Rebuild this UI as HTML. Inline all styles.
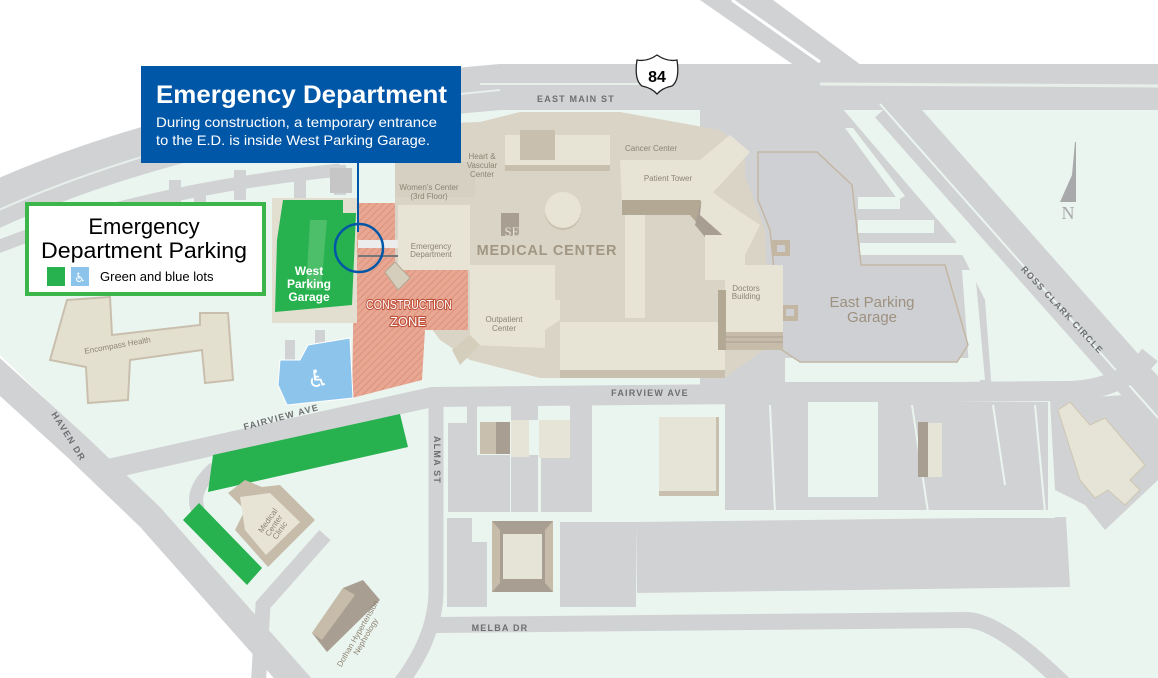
<!DOCTYPE html>
<html><head><meta charset="utf-8"><style>
html,body{margin:0;padding:0;background:#fff;}
svg{display:block;}
.st{font-family:"Liberation Sans",sans-serif;font-weight:bold;font-size:9px;fill:#6d6e71;letter-spacing:1.2px;}
.bl{font-family:"Liberation Sans",sans-serif;font-size:8px;fill:#8d8374;}
</style></head><body>
<svg width="1158" height="678" viewBox="0 0 1158 678" xmlns="http://www.w3.org/2000/svg">
<defs>
<pattern id="hatch" width="5" height="5" patternUnits="userSpaceOnUse" patternTransform="rotate(45)">
<rect width="5" height="5" fill="#e7a792"/><line x1="0" y1="0" x2="0" y2="5" stroke="#d98c78" stroke-width="1.6"/>
</pattern>
</defs>
<rect width="1158" height="678" fill="#fff"/>
<path d="M0,205 Q200,105 500,86 L1158,86 L1158,678 L297,678 L150,500 L77,430 L0,355 Z" fill="#ebf5ef"/>

<path d="M-10,207 Q200,112 500,87 L1170,87" fill="none" stroke="#d1d2d4" stroke-width="46"/>
<path d="M-10,214 Q200,118 500,90" fill="none" stroke="#e6efe9" stroke-width="2"/>
<path d="M820,84 L1158,86" fill="none" stroke="#e6efe9" stroke-width="3"/>
<path d="M480,84 L640,84" fill="none" stroke="#e6efe9" stroke-width="2"/>
<polygon points="700,0 773,0 865,68 798,68" fill="#d1d2d4"/>
<line x1="732" y1="0" x2="820" y2="62" stroke="#fff" stroke-width="3"/>
<path d="M-10,250 Q140,190 340,170" fill="none" stroke="#d1d2d4" stroke-width="13"/>
<path d="M175,180 L175,205 M240,170 L240,200 M200,185 L200,210" stroke="#d1d2d4" stroke-width="12"/>
<path d="M300,170 L300,200 M340,165 L340,195" stroke="#d1d2d4" stroke-width="12"/>
<rect x="330" y="168" width="22" height="25" fill="#c7c6c6"/>

<polygon points="700,108 842,108 955,240 985,300 992,392 700,392" fill="#d1d2d4"/>
<polygon points="845,128 853,128 905,196 898,200" fill="#ebf5ef"/>
<rect x="858" y="197" width="42" height="12" fill="#ebf5ef"/>
<rect x="858" y="220" width="76" height="13" fill="#ebf5ef"/>
<rect x="860" y="243" width="103" height="12" fill="#ebf5ef"/>
<rect x="785" y="358" width="195" height="24" fill="#ebf5ef"/>
<polygon points="962,270 975,270 985,380 970,380" fill="#ebf5ef"/>
<line x1="890" y1="104" x2="1170" y2="420" stroke="#d1d2d4" stroke-width="40"/>
<line x1="880" y1="104" x2="1160" y2="420" stroke="#ebf5ef" stroke-width="2"/>
<path d="M95,472 L432,397 L1060,391 Q1120,392 1150,355" fill="none" stroke="#d1d2d4" stroke-width="20"/>
<polygon points="1050,400 1125,395 1158,420 1158,480 1105,530 1085,505 1055,490" fill="#d1d2d4"/>
<path d="M-10,368 L78,448 L150,517 L312,700" fill="none" stroke="#d1d2d4" stroke-width="28"/>
<path d="M436,392 L436,590 Q436,640 395,690" fill="none" stroke="#d1d2d4" stroke-width="15"/>
<path d="M436,625 L966,620 Q1000,620 1070,690" fill="none" stroke="#d1d2d4" stroke-width="16"/>
<path d="M215,468 Q190,490 198,510" fill="none" stroke="#d1d2d4" stroke-width="14"/>
<path d="M258,690 L263,605 L325,535" fill="none" stroke="#d1d2d4" stroke-width="15"/>
<path d="M290,395 L290,340 M320,395 L320,330" stroke="#d1d2d4" stroke-width="10"/>

<g fill="#d1d2d4">
<rect x="448" y="423" width="29" height="89"/><rect x="467" y="400" width="10" height="25"/>
<rect x="477" y="455" width="33" height="57"/><rect x="511" y="455" width="27" height="57"/>
<rect x="511" y="400" width="27" height="20"/>
<rect x="541" y="458" width="51" height="54"/><rect x="570" y="400" width="22" height="60"/>
<rect x="447" y="518" width="25" height="89"/><rect x="472" y="542" width="15" height="65"/>
<rect x="560" y="522" width="76" height="85"/><rect x="600" y="522" width="36" height="85"/>
<polygon points="636,522 1066,517 1070,587 637,593"/>
<rect x="725" y="402" width="323" height="110"/>
</g>
<rect x="808" y="402" width="70" height="95" fill="#ebf5ef"/>
<line x1="770" y1="405" x2="775" y2="512" stroke="#ebf5ef" stroke-width="2"/>
<line x1="912" y1="405" x2="928" y2="512" stroke="#ebf5ef" stroke-width="2"/>
<line x1="993" y1="405" x2="1005" y2="485" stroke="#ebf5ef" stroke-width="2"/>
<line x1="1035" y1="405" x2="1045" y2="512" stroke="#ebf5ef" stroke-width="2"/>
<rect x="725" y="510" width="330" height="8" fill="#ebf5ef"/>
<rect x="480" y="422" width="18" height="32" fill="#c9bfae"/><rect x="496" y="422" width="14" height="32" fill="#a89e91"/>
<rect x="511" y="420" width="18" height="37" fill="#e6e4d6"/>
<rect x="539" y="420" width="31" height="38" fill="#e6e4d6"/>
<polygon points="492,521 553,521 553,592 492,592" fill="#a89e91"/>
<polygon points="492,521 500,530 500,583 492,592" fill="#c7bcaa"/>
<polygon points="553,521 545,530 545,583 553,592" fill="#c7bcaa"/>
<rect x="503" y="534" width="39" height="45" fill="#e6e4d6"/>
<rect x="659" y="417" width="60" height="79" fill="#c9bfae"/><rect x="659" y="417" width="57" height="74" fill="#e6e4d6"/>
<rect x="918" y="422" width="10" height="55" fill="#a89e91"/><rect x="928" y="423" width="14" height="54" fill="#e6e4d6"/>
<polygon points="1058,410 1070,402 1090,425 1105,418 1145,465 1130,480 1140,490 1125,505 1108,490 1095,498 1080,480" fill="#e6e4d6" stroke="#cfc6b2" stroke-width="1"/>

<polygon points="758,152 817,152 852,185 861,265 945,265 968,345 957,362 800,362 782,350 770,230 758,200" fill="#cfd0d3" stroke="#c3b7a3" stroke-width="1.5"/>
<rect x="772" y="240" width="18" height="16" fill="#c3b7a3"/><rect x="777" y="245" width="8" height="7" fill="#cfd0d3"/>
<rect x="782" y="305" width="16" height="16" fill="#c3b7a3"/><rect x="786" y="309" width="8" height="7" fill="#cfd0d3"/>
<text x="872" y="307" text-anchor="middle" font-family="Liberation Sans,sans-serif" font-size="15" fill="#9d9180">East Parking</text>
<text x="872" y="322" text-anchor="middle" font-family="Liberation Sans,sans-serif" font-size="15" fill="#9d9180">Garage</text>

<polygon points="395,125 480,122 520,112 620,112 720,130 745,150 745,175 765,230 770,345 725,378 540,378 470,360 440,340 395,280" fill="#d9d4c6"/>
<rect x="395" y="162" width="80" height="35" fill="#d6d0c2"/>
<rect x="398" y="205" width="72" height="65" fill="#e7e4d6"/>
<rect x="505" y="135" width="105" height="30" fill="#e7e4d6"/><rect x="505" y="165" width="105" height="6" fill="#c9bfae"/>
<rect x="520" y="130" width="35" height="30" fill="#c9bfae"/>
<circle cx="563" cy="212" r="18" fill="#c9bfae"/><circle cx="563" cy="210" r="18" fill="#e7e4d6"/>
<rect x="501" y="213" width="18" height="23" fill="#a89e91"/>
<text x="512" y="236" text-anchor="middle" font-family="Liberation Serif,serif" font-size="13" fill="#e7e4d6">SE</text>
<text x="547" y="255" text-anchor="middle" font-family="Liberation Sans,sans-serif" font-weight="bold" font-size="14.5" fill="#a29684" letter-spacing="0.8">MEDICAL CENTER</text>
<rect x="470" y="265" width="85" height="35" fill="#e7e4d6"/>
<polygon points="470,300 560,300 560,320 545,330 545,348 470,345" fill="#e7e4d6"/>
<rect x="560" y="322" width="165" height="53" fill="#e7e4d6"/><rect x="560" y="370" width="165" height="8" fill="#c9bfae"/>
<rect x="625" y="208" width="20" height="110" fill="#e7e4d6"/>
<polygon points="620,160 700,160 730,135 750,152 720,185 700,205 622,205" fill="#e7e4d6"/>
<polygon points="622,200 700,200 735,235 720,250 690,215 622,215" fill="#b3a893"/>
<polygon points="700,205 735,240 720,255 695,225" fill="#a89e91"/>
<polygon points="703,185 730,205 760,225 745,255 700,215" fill="#e7e4d6"/>
<rect x="705" y="235" width="40" height="45" fill="#e7e4d6"/>
<rect x="725" y="265" width="58" height="70" fill="#e7e4d6"/>
<rect x="725" y="332" width="58" height="18" fill="#c7bcaa"/>
<line x1="725" y1="337" x2="783" y2="337" stroke="#a89e91"/><line x1="725" y1="342" x2="783" y2="342" stroke="#a89e91"/>
<rect x="718" y="290" width="8" height="60" fill="#b3a893"/>
<polygon points="452,350 470,335 480,345 460,365" fill="#d6cebd"/>
<text class="bl" x="482" y="159" text-anchor="middle">Heart &amp;</text>
<text class="bl" x="482" y="168" text-anchor="middle">Vascular</text>
<text class="bl" x="482" y="177" text-anchor="middle">Center</text>
<text class="bl" x="429" y="190" text-anchor="middle">Women's Center</text>
<text class="bl" x="429" y="199" text-anchor="middle">(3rd Floor)</text>
<text class="bl" x="431" y="249" text-anchor="middle">Emergency</text>
<text class="bl" x="431" y="257" text-anchor="middle">Department</text>
<text class="bl" x="504" y="322" text-anchor="middle">Outpatient</text>
<text class="bl" x="504" y="331" text-anchor="middle">Center</text>
<text class="bl" x="651" y="151" text-anchor="middle">Cancer Center</text>
<text class="bl" x="668" y="181" text-anchor="middle">Patient Tower</text>
<text class="bl" x="746" y="291" text-anchor="middle">Doctors</text>
<text class="bl" x="746" y="299" text-anchor="middle">Building</text>

<polygon points="355,203 395,203 395,270 468,270 468,330 425,330 422,380 352,398" fill="url(#hatch)"/>
<rect x="358" y="240" width="40" height="8" fill="#ececec"/><line x1="358" y1="256" x2="398" y2="256" stroke="#777" stroke-width="2"/>
<polygon points="385,272 395,262 410,278 398,290" fill="#d6cebd" stroke="#b3a893"/>
<text x="366" y="309" textLength="86" lengthAdjust="spacingAndGlyphs" font-family="Liberation Sans Narrow,Liberation Sans,sans-serif" font-size="13" fill="#fff" stroke="#c0503a" stroke-width="2.2" paint-order="stroke" stroke-linejoin="round">CONSTRUCTION</text>
<text x="408" y="326" text-anchor="middle" font-family="Liberation Sans Narrow,Liberation Sans,sans-serif" font-size="13" fill="#fff" stroke="#c0503a" stroke-width="2.2" paint-order="stroke" stroke-linejoin="round">ZONE</text>

<rect x="272" y="198" width="85" height="125" fill="#e2dfd1"/>
<polygon points="283,200 343,200 343,213 356,213 352,305 275,312 277,240" fill="#27b24f"/>
<polygon points="310,220 327,220 321,290 306,290" fill="#5ec376" opacity="0.7"/>
<text x="309" y="275" text-anchor="middle" font-family="Liberation Sans,sans-serif" font-weight="bold" font-size="12" fill="#fff">West</text>
<text x="309" y="288" text-anchor="middle" font-family="Liberation Sans,sans-serif" font-weight="bold" font-size="12" fill="#fff">Parking</text>
<text x="309" y="301" text-anchor="middle" font-family="Liberation Sans,sans-serif" font-weight="bold" font-size="12" fill="#fff">Garage</text>
<polygon points="280,360 300,360 308,345 350,338 353,398 287,405 278,385" fill="#8cc4ec" stroke="#fff" stroke-width="1"/>
<text x="318" y="387" text-anchor="middle" font-family="DejaVu Sans,sans-serif" font-size="24" fill="#fff">♿</text>

<polygon points="213,455 400,414 408,447 208,492" fill="#27b24f"/>
<polygon points="183,520 199,503 262,568 247,585" fill="#27b24f"/>

<polygon points="67,300 110,297 112,335 200,325 200,313 228,313 233,380 205,383 202,350 130,360 128,400 88,403 86,367 50,360" fill="#e4e0cf" stroke="#c9bfae" stroke-width="2"/>
<text class="bl" x="118" y="348" transform="rotate(-10 118 348)" text-anchor="middle">Encompass Health</text>

<polygon points="228,493 245,480 262,487 280,485 315,520 268,567 235,530 245,510" fill="#c7bcaa"/>
<polygon points="240,497 270,493 300,522 266,555 245,530" fill="#e7e4d6"/>
<text class="bl" x="270" y="522" transform="rotate(-55 270 522)" text-anchor="middle" font-size="7">Medical</text>
<text class="bl" x="276" y="527" transform="rotate(-55 276 527)" text-anchor="middle" font-size="7">Center</text>
<text class="bl" x="282" y="532" transform="rotate(-55 282 532)" text-anchor="middle" font-size="7">Clinic</text>
<polygon points="312,633 343,588 363,580 380,600 327,652" fill="#a89e91"/>
<polygon points="312,633 343,588 355,595 322,640" fill="#c7bcaa"/>
<text class="bl" x="360" y="635" transform="rotate(-60 360 635)" text-anchor="middle" font-size="7">Dothan Hypertension</text>
<text class="bl" x="368" y="638" transform="rotate(-60 368 638)" text-anchor="middle" font-size="7">Nephrology</text>

<text class="st" x="576" y="102" text-anchor="middle">EAST MAIN ST</text>
<text class="st" x="650" y="396" text-anchor="middle">FAIRVIEW AVE</text>
<text class="st" x="282" y="420" text-anchor="middle" transform="rotate(-15 282 420)">FAIRVIEW AVE</text>
<text class="st" x="66" y="438" text-anchor="middle" transform="rotate(58 66 438)">HAVEN DR</text>
<text class="st" x="434" y="460" text-anchor="middle" transform="rotate(90 434 460)">ALMA ST</text>
<text class="st" x="500" y="631" text-anchor="middle">MELBA DR</text>
<text class="st" x="1060" y="312" text-anchor="middle" transform="rotate(47 1060 312)">ROSS CLARK CIRCLE</text>

<polygon points="1075,142 1076,142 1076,202 1060,202 1072,175" fill="#a8a9ab"/>
<text x="1068" y="219" text-anchor="middle" font-family="Liberation Serif,serif" font-size="18" fill="#a8a9ab">N</text>

<path d="M637,60 Q647,62 657,55 Q667,62 677,60 Q680,80 672,86 Q662,88 657,94 Q652,88 642,86 Q634,80 637,60 Z" fill="#fff" stroke="#222" stroke-width="1.3"/>
<text x="657" y="82" text-anchor="middle" font-family="Liberation Sans,sans-serif" font-weight="bold" font-size="16" fill="#000">84</text>

<line x1="358" y1="160" x2="358" y2="232" stroke="#0057a8" stroke-width="2"/>
<circle cx="359" cy="248" r="24" fill="none" stroke="#0057a8" stroke-width="2.5"/>
<rect x="141" y="66" width="320" height="97" fill="#0057a8"/>
<text x="156" y="103" textLength="291" lengthAdjust="spacingAndGlyphs" font-family="Liberation Sans,sans-serif" font-weight="bold" font-size="25" fill="#fff">Emergency Department</text>
<text x="156" y="127" textLength="281" lengthAdjust="spacingAndGlyphs" font-family="Liberation Sans,sans-serif" font-size="14" fill="#fff">During construction, a temporary entrance</text>
<text x="156" y="145" textLength="274" lengthAdjust="spacingAndGlyphs" font-family="Liberation Sans,sans-serif" font-size="14" fill="#fff">to the E.D. is inside West Parking Garage.</text>

<rect x="27" y="204" width="237" height="90" fill="#fff" stroke="#3cb54a" stroke-width="4"/>
<text x="144" y="234" text-anchor="middle" font-family="Liberation Sans,sans-serif" font-size="22" fill="#000">Emergency</text>
<text x="144" y="258" text-anchor="middle" textLength="206" lengthAdjust="spacingAndGlyphs" font-family="Liberation Sans,sans-serif" font-size="22" fill="#000">Department Parking</text>
<rect x="47" y="267" width="18" height="19" fill="#27b24f"/>
<rect x="71" y="267" width="18" height="19" fill="#8cc4ec"/>
<text x="80" y="282" text-anchor="middle" font-family="DejaVu Sans,sans-serif" font-size="13" fill="#fff">♿</text>
<text x="100" y="281" font-family="Liberation Sans,sans-serif" font-size="13" fill="#000">Green and blue lots</text>
</svg>
</body></html>
